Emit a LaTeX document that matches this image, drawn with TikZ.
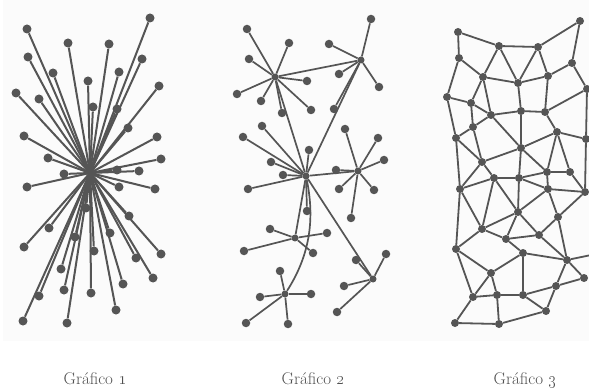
\documentclass[tikz,border=0pt]{standalone}
\definecolor{ink}{RGB}{85,85,85}
\definecolor{capt}{RGB}{80,80,80}
\definecolor{panel}{RGB}{251,251,251}
\pgfdeclarelayer{bg}
\pgfsetlayers{bg,main}
\begin{document}
\begin{tikzpicture}[x=1pt,y=-1pt,
  dotA/.style={circle,fill=ink,inner sep=0pt,minimum size=9pt},
  dotB/.style={circle,fill=ink,inner sep=0pt,minimum size=8.5pt},
  hubB/.style={circle,fill=ink,inner sep=0pt,minimum size=7pt},
  dotC/.style={circle,fill=ink,inner sep=0pt,minimum size=8pt},
  spoke/.style={draw=ink,line width=2pt},
  link/.style={draw=ink,line width=1.7pt},
  mesh/.style={draw=ink,line width=1.8pt},
  caption/.style={text=capt,font=\fontsize{17}{20}\selectfont,anchor=base}]
\useasboundingbox (0,0) rectangle (589,390);
\begin{pgfonlayer}{bg}
  \fill[panel] (3,0) rectangle (589,341);
\end{pgfonlayer}

% ---------- centralised network: one hub, every node wired to it
\coordinate (h1) at (90,173);
\foreach \i/\x/\y in {1/27/29, 2/150/18, 3/68/43, 4/109/44, 5/28/57, 6/142/59,
    7/53/73, 8/119/72, 9/88/81, 10/159/86, 11/16/93, 12/39/99, 13/93/107,
    14/117/109, 15/128/128, 16/24/136, 17/157/137, 18/48/158, 19/161/159,
    20/117/170, 21/139/171, 22/64/174, 23/27/187, 24/119/187, 25/155/189,
    26/129/216, 27/49/228, 28/75/237, 29/110/233, 30/24/247, 31/161/254,
    32/94/251, 33/136/258, 34/61/269, 35/153/278, 36/123/284, 37/64/290,
    38/91/293, 39/39/296, 40/116/310, 41/23/321, 42/67/323, 43/86/208} {
  \node[dotA] (a\i) at (\x,\y) {};
  \begin{pgfonlayer}{bg}
    \draw[spoke] (h1) -- (a\i);
  \end{pgfonlayer}
}

% ---------- decentralised network: several hubs with their own stars
\foreach \h/\x/\y in {A/275/77, B/361/60, C/306/176, D/358/171,
    E/295/238, F/285/294, G/373/279}
  \node[hubB] (g\h) at (\x,\y) {};
\foreach \h/\i/\x/\y in {A/1/247/29, A/2/289/43, A/3/249/59, A/4/307/81,
    A/5/237/94, A/6/261/101, A/7/311/110, A/8/282/113,
    B/1/371/19, B/2/329/44, B/3/339/74, B/4/379/87, B/5/334/109,
    C/1/243/137, C/2/262/126, C/3/309/150, C/4/271/162, C/5/283/175,
    C/6/248/189, C/7/307/211,
    D/1/345/129, D/2/378/138, D/3/384/160, D/4/336/170, D/5/339/189,
    D/6/374/190, D/7/351/218,
    E/1/270/229, E/2/327/233, E/3/244/251, E/4/313/253,
    F/1/280/271, F/2/260/297, F/3/311/294, F/4/246/323, F/5/288/324,
    G/1/386/254, G/2/356/260, G/3/344/286, G/4/337/312} {
  \node[dotB] (g\h\i) at (\x,\y) {};
  \begin{pgfonlayer}{bg}
    \draw[link] (g\h) -- (g\h\i);
  \end{pgfonlayer}
}
\begin{pgfonlayer}{bg}
  \foreach \u/\v in {A/B, A/C, B/C, C/D, C/E, C/G}
    \draw[link] (g\u) -- (g\v);
  \draw[link] (gC) .. controls (314,215) and (312,252) .. (gF);
\end{pgfonlayer}

% ---------- distributed network: a mesh
\foreach \n/\x/\y in {A1/458/32, A2/499/46, A3/538/47, A4/580/21,
    B1/459/58, B2/572/63, C1/483/77, C2/518/83, C3/548/76, C4/587/89,
    D1/447/97, D2/471/103, D3/491/115, D4/521/111, D5/545/112,
    E1/473/127, E2/557/132, E3/586/139, F1/456/138, F2/521/148,
    G1/482/162, H1/494/178, H2/519/178, H3/547/172, H4/570/172,
    I1/460/189, I2/548/189, I3/585/192, J1/518/212, J2/558/217,
    K1/482/229, K2/506/239, K3/539/235, L1/456/249, L2/523/253,
    L3/567/260, M1/584/278, M2/491/273, N1/556/286, O1/473/297,
    O2/497/295, O3/523/295, P1/546/311, Q1/455/323, Q2/499/324}
  \node[dotC] (m\n) at (\x,\y) {};
\coordinate (mR) at (596,254);
\begin{pgfonlayer}{bg}
  \foreach \u/\v in {A1/A2, A2/A3, A3/A4, A1/B1, A4/B2, A2/C1, A2/C2, A3/C2,
      A3/C3, B1/C1, B1/D1, B2/C3, B2/C4, C1/C2, C2/C3, C1/D2, C1/D3, C2/D4,
      C3/D5, C4/D5, C4/E3, D1/D2, D2/D3, D1/F1, D2/E1, D3/D4, D4/D5, D3/E1,
      D3/F2, D4/F2, D5/E2, E2/F2, E2/E3, E1/F1, E1/G1, F1/I1, F1/G1, G1/F2,
      G1/H1, G1/I1, F2/H3, E2/H3, E2/H4, H1/H2, H2/H3, H3/H4, F2/H2, H1/I1,
      H1/K1, H1/J1, H2/J1, H2/I2, H3/I2, H4/I3, E3/I3, I2/J1, I2/J2, I2/I3,
      J1/K1, I3/J2, I1/L1, I1/K1, J1/K2, K1/K2, K1/L1, K2/K3, K2/L2, J1/K3,
      J2/K3, J2/L3, K3/L3, L3/M1, L3/N1, L2/L3, L2/M2, L2/O3, L1/M2, M2/O1,
      M2/O2, L1/O1, O1/O2, O2/O3, O3/P1, O3/N1, N1/P1, N1/M1, O1/Q1, Q1/Q2,
      Q2/P1, O2/Q2}
    \draw[mesh] (m\u) -- (m\v);
  \draw[mesh] (mL3) -- (mR);
\end{pgfonlayer}

% ---------- captions
\node[caption] (t1) at (95,384) {Gráfico \oldstylenums{1}};
\node[caption] (t2) at (313,384) {Gráfico \oldstylenums{2}};
\node[caption] (t3) at (525,384) {Gráfico \oldstylenums{3}};
\end{tikzpicture}
\end{document}
